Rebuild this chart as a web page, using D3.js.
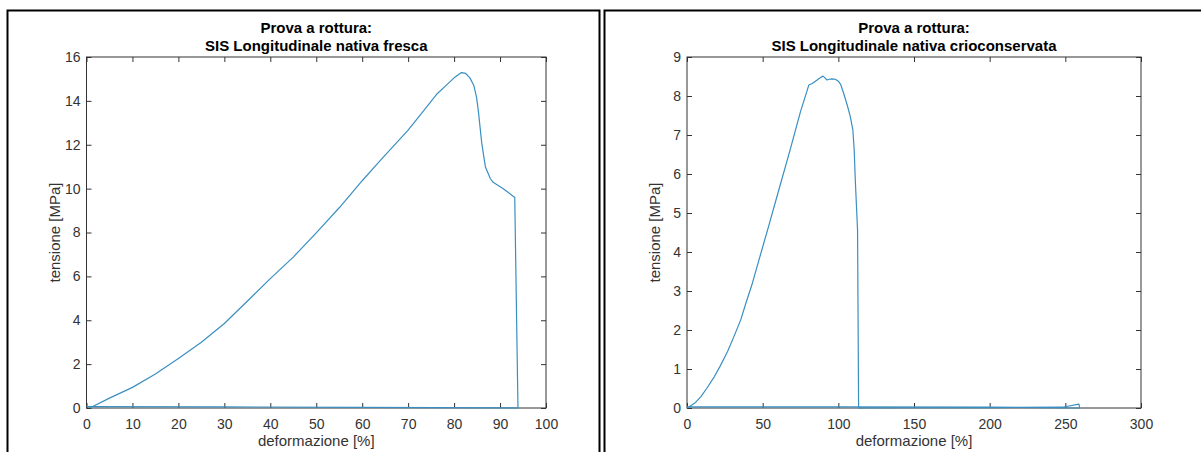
<!DOCTYPE html>
<html><head><meta charset="utf-8">
<script src="https://cdn.jsdelivr.net/npm/d3@7"></script>
<style>
body{margin:0;background:#fff}
svg text{font-family:"Liberation Sans",Arial,Helvetica,sans-serif}
</style>
</head><body>
<svg id="chart" width="1201" height="452"></svg>
<script>
// ---- data: left panel (fresh) ----
const leftTitle = ["Prova a rottura:", "SIS Longitudinale nativa fresca"];
const leftXTicks = [0,10,20,30,40,50,60,70,80,90,100];
const leftYTicks = [0,2,4,6,8,10,12,14,16];
const leftStrain = [0.7,5,10,15,20,25,30,35.6,40,45,50,55.1,60,64,69.9,73,76.2,78.5,80,81.6,82.5,83.4,84.3,84.9,85.3,86.0,86.8,87.9,88.5,90.7,93.2,93.9,60,30,0];
const leftStress = [0,0.45,0.94,1.55,2.26,3.0,3.85,4.99,5.9,6.88,7.98,9.15,10.36,11.3,12.64,13.45,14.3,14.75,15.05,15.29,15.25,15.06,14.7,14.15,13.5,12.1,11.0,10.45,10.29,9.99,9.6,0,0.03,0.05,0.06];

// ---- data: right panel (cryopreserved) ----
const rightTitle = ["Prova a rottura:", "SIS Longitudinale nativa crioconservata"];
const rightXTicks = [0,50,100,150,200,250,300];
const rightYTicks = [0,1,2,3,4,5,6,7,8,9];
const rightStrain = [0,5,9.2,13,18,22,26.8,31,35.5,39,43.2,47,50.9,53.5,60,68,75,80.5,82.7,86,88,89.9,91,92.5,94,95.8,98,100,101.5,103.5,106,107.9,109.6,110.5,111.2,112.7,113.4,150,200,248,259,259.5,200,100,0];
const rightStress = [0,0.12,0.29,0.5,0.8,1.08,1.45,1.83,2.26,2.7,3.2,3.72,4.25,4.6,5.5,6.6,7.6,8.28,8.32,8.41,8.47,8.51,8.47,8.41,8.43,8.44,8.43,8.38,8.3,8.07,7.75,7.47,7.13,6.6,5.85,4.56,0,0.01,0.01,0.02,0.1,0,0.02,0.03,0.03];

const xLabel = "deformazione [%]";
const yLabel = "tensione [MPa]";

const svg = d3.select("#chart");
const axisColor = "#333";
const lineColor = "#3a8fc2";

function panel(cfg) {
  const {frameX, frameW, x0, x1, y0, y1, xDomain, yDomain, xTicks, yTicks, title, xs, ys} = cfg;
  svg.append("rect").attr("x", frameX).attr("y", 10.5).attr("width", frameW).attr("height", 470)
    .attr("fill", "none").attr("stroke", "#000").attr("stroke-width", 2);

  const x = d3.scaleLinear().domain(xDomain).range([x0, x1]);
  const y = d3.scaleLinear().domain(yDomain).range([y1, y0]);

  const g = svg.append("g");
  g.append("rect").attr("x", x0).attr("y", y0).attr("width", x1 - x0).attr("height", y1 - y0)
    .attr("fill", "#fff").attr("stroke", axisColor).attr("stroke-width", 1);

  const styleAxis = sel => {
    sel.select(".domain").remove();
    sel.selectAll(".tick line").attr("stroke", axisColor);
    sel.selectAll(".tick text").attr("fill", "#333").style("font-size", "14px");
  };
  g.append("g").attr("transform", `translate(0,${y1})`)
    .call(d3.axisBottom(x).tickValues(xTicks).tickSize(-5).tickSizeOuter(0).tickPadding(11).tickFormat(d3.format("d")))
    .call(styleAxis);
  g.append("g").attr("transform", `translate(0,${y0})`)
    .call(d3.axisTop(x).tickValues(xTicks).tickSize(-5).tickSizeOuter(0).tickFormat(""))
    .call(styleAxis);
  g.append("g").attr("transform", `translate(${x0},0)`)
    .call(d3.axisLeft(y).tickValues(yTicks).tickSize(-5).tickSizeOuter(0).tickPadding(6).tickFormat(d3.format("d")))
    .call(styleAxis);
  g.append("g").attr("transform", `translate(${x1},0)`)
    .call(d3.axisRight(y).tickValues(yTicks).tickSize(-5).tickSizeOuter(0).tickFormat(""))
    .call(styleAxis);

  const data = xs.map((v, i) => [v, ys[i]]);
  g.append("path").datum(data)
    .attr("fill", "none").attr("stroke", lineColor).attr("stroke-width", 1.2)
    .attr("stroke-linejoin", "round")
    .attr("d", d3.line().x(d => x(d[0])).y(d => y(d[1])));

  const cx = (x0 + x1) / 2;
  g.append("text").attr("x", cx).attr("y", 33).attr("text-anchor", "middle")
    .style("font-size", "15px").style("font-weight", "bold").attr("fill", "#000").text(title[0]);
  g.append("text").attr("x", cx).attr("y", 51).attr("text-anchor", "middle")
    .style("font-size", "15px").style("font-weight", "bold").attr("fill", "#000").text(title[1]);

  g.append("text").attr("x", cx).attr("y", 446).attr("text-anchor", "middle")
    .style("font-size", "15px").attr("fill", "#333").text(xLabel);
  g.append("text").attr("transform", `translate(${x0 - 27},${(y0 + y1) / 2}) rotate(-90)`)
    .attr("text-anchor", "middle").style("font-size", "15px").attr("fill", "#333").text(yLabel);
}

panel({frameX: 7.5, frameW: 592, x0: 86.5, x1: 546, y0: 57, y1: 408,
  xDomain: [0, 100], yDomain: [0, 16], xTicks: leftXTicks, yTicks: leftYTicks,
  title: leftTitle, xs: leftStrain, ys: leftStress});
panel({frameX: 604.5, frameW: 620, x0: 687, x1: 1141, y0: 57, y1: 408,
  xDomain: [0, 300], yDomain: [0, 9], xTicks: rightXTicks, yTicks: rightYTicks,
  title: rightTitle, xs: rightStrain, ys: rightStress});
</script>
</body></html>
